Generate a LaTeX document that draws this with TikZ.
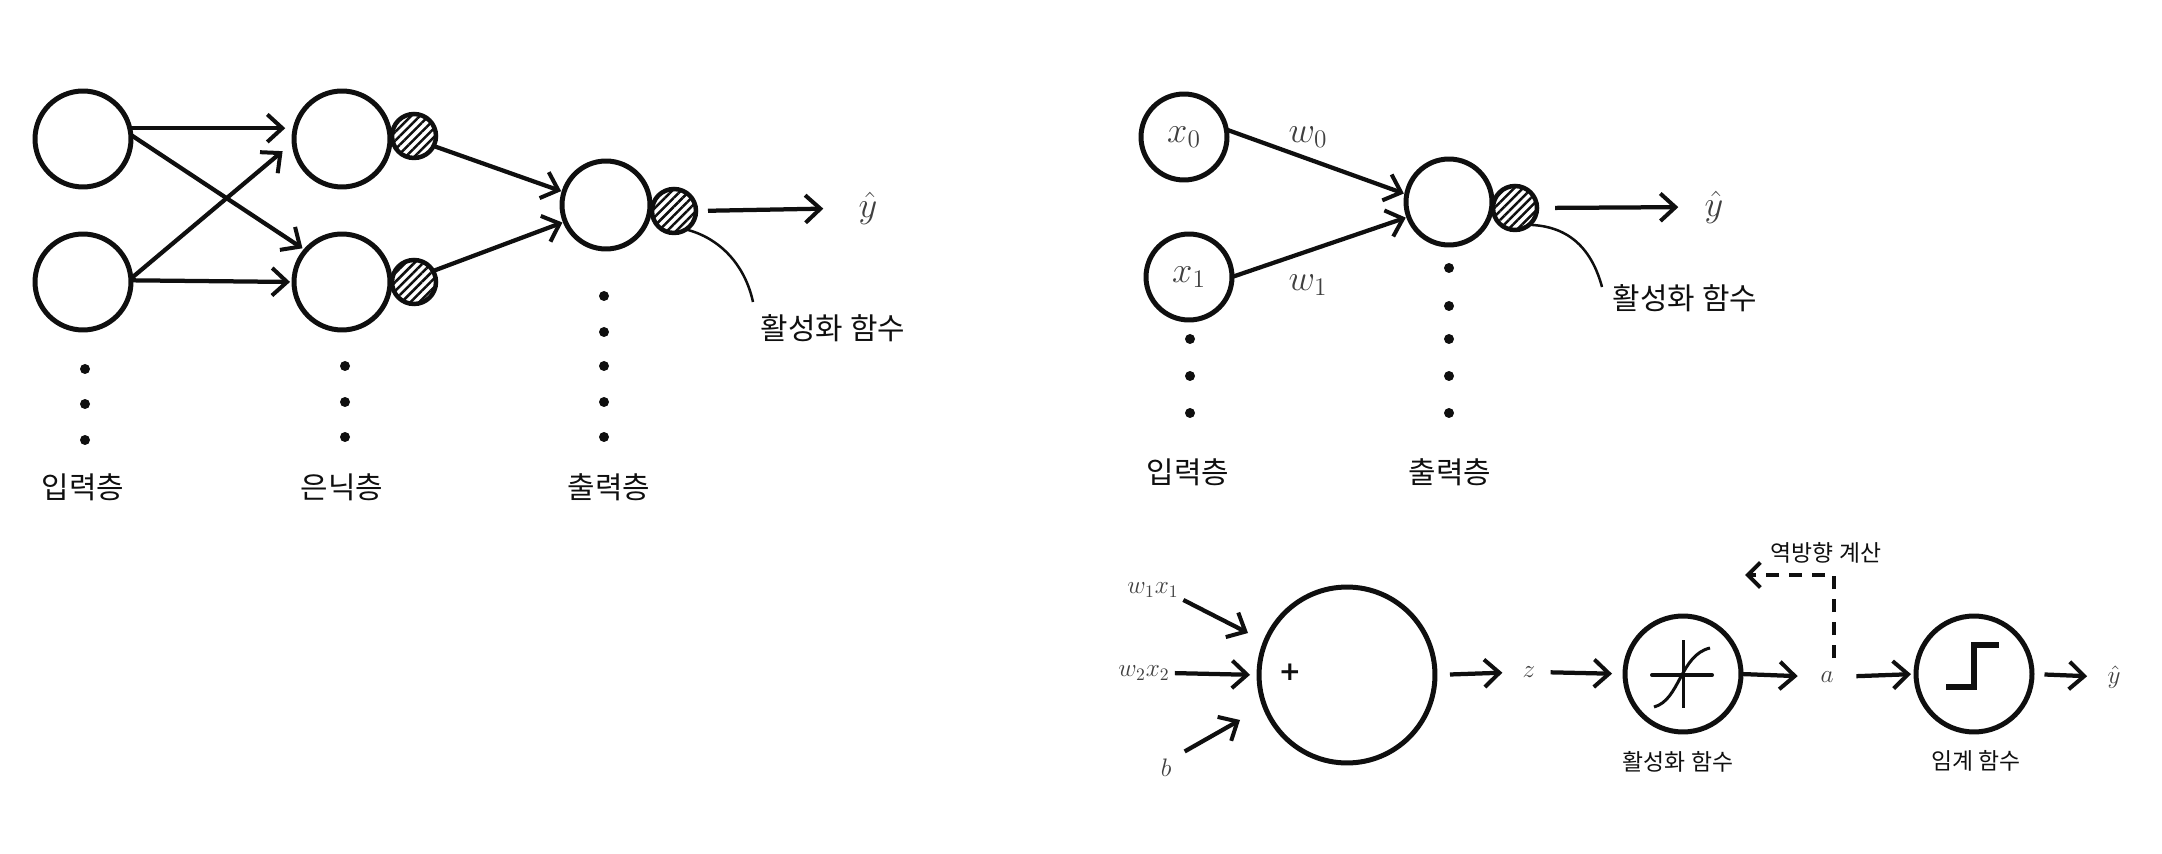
\documentclass[tikz,border=0pt]{standalone}
\usepackage{fontspec}
\usetikzlibrary{arrows.meta,patterns.meta}
\newfontfamily\krfont{Noto Sans CJK KR}
\newfontfamily\plusfont{DejaVu Sans}
\definecolor{ink}{gray}{0.06}
\definecolor{mathink}{gray}{0.25}
\tikzset{
  nrn/.style={circle,draw=ink,line width=0.1cm,inner sep=0pt,outer sep=0pt,minimum size=#1*0.04cm},
  hatchn/.style={circle,draw=ink,line width=0.09cm,inner sep=0pt,outer sep=0pt,minimum size=22*0.04cm,
    pattern={Lines[angle=45,distance=0.125cm,line width=0.05cm]},pattern color=ink},
  dotn/.style={circle,fill=ink,inner sep=0pt,outer sep=0pt,minimum size=0.2cm},
  arr/.style={draw=ink,line width=0.085cm,-{Straight Barb[length=0.3cm,width=0.55cm,line width=0.08cm]}},
  thin curve/.style={draw=ink,line width=0.05cm},
  klabel/.style={inner sep=0pt,text=ink,font=\krfont\fontsize{17}{20}\selectfont},
  ksmall/.style={inner sep=0pt,text=ink,font=\krfont\fontsize{13}{16}\selectfont},
  mbig/.style={inner sep=0pt,text=mathink,font=\huge},
  msmall/.style={inner sep=0pt,text=mathink,font=\Large},
  pen/.style={draw=ink,line width=0.08cm,line cap=round}
}
\begin{document}
\begin{tikzpicture}[x=0.02cm,y=-0.02cm]
\useasboundingbox (0,0) rectangle (2162,854);
% --- left network
\node[nrn=48] (i1) at (83,139) {};
\node[nrn=48] (i2) at (83,282) {};
\node[nrn=48] (h1) at (342,139) {};
\node[nrn=48] (h2) at (342,282) {};
\node[hatchn] (s1) at (414,136) {};
\node[hatchn] (s2) at (414,282) {};
\node[nrn=44] (o1) at (606,205) {};
\node[hatchn] (s3) at (674,211) {};
\node[mbig] (yh1) at (868,208) {$\hat{y}$};
\draw[arr,shorten >=0.2cm] (i1.13) -- (h1.167);
\draw[arr,shorten >=0.08cm] (i1.5) -- (h2.139);
\draw[arr,shorten >=0.3cm] (i2.4) -- (h1.183);
\draw[arr,shorten >=0.08cm] (i2.2) -- (h2.180);
\draw[arr,shorten >=0.06cm] (s1.-27) -- (o1.163);
\draw[arr,shorten >=0.06cm] (s2.30) -- (o1.202);
\draw[arr,shorten <=0.24cm,shorten >=0.7cm] (s3.east) -- (yh1.west);
\node[klabel] (act1) at (833,328) {활성화 함수};
\coordinate (act1c) at (753,302);
\draw[thin curve] (s3.-57) .. controls (720,238) and (745,265) .. (act1c);
\foreach \n/\x/\y in {a/85/369,b/85/404,c/85/440,d/345/366,e/345/402,f/345/437,g/604/296,h/604/332,i/604/366,j/604/402,k/604/437}
  \node[dotn] (dl\n) at (\x,\y) {};
\node[klabel] (li) at (83,487) {입력층};
\node[klabel] (lh) at (342,487) {은닉층};
\node[klabel] (lo) at (609,487) {출력층};
% --- right top network
\node[nrn=43,label={[mbig]center:$x_0$}] (x0) at (1184,137) {};
\node[nrn=43,label={[mbig]center:$x_1$}] (x1) at (1189,277) {};
\node[nrn=43] (o2) at (1449,202) {};
\node[hatchn] (s4) at (1515,208) {};
\node[mbig] (yh2) at (1714,207) {$\hat{y}$};
\draw[arr,shorten >=0.06cm] (x0.10) -- (o2.170);
\draw[arr,shorten >=0.06cm] (x1.0) -- (o2.200);
\node[mbig] (w0) at (1308,137) {$w_0$};
\node[mbig] (w1) at (1308,285) {$w_1$};
\draw[arr,shorten <=0.36cm,shorten >=0.52cm] (s4.east) -- (yh2.west);
\node[klabel] (act2) at (1685,298) {활성화 함수};
\coordinate (act2c) at (1602,287);
\draw[thin curve] (s4.-50) .. controls (1570,226) and (1592,250) .. (act2c);
\foreach \n/\x/\y in {a/1190/339,b/1190/376,c/1190/413,d/1449/268,e/1449/306,f/1449/339,g/1449/376,h/1449/413}
  \node[dotn] (dr\n) at (\x,\y) {};
\node[klabel] (li2) at (1188,472) {입력층};
\node[klabel] (lo2) at (1450,472) {출력층};
% --- right bottom pipeline
\node[nrn=88] (sum) at (1347,675) {};
\node[inner sep=0pt,text=ink,font=\plusfont\bfseries\fontsize{15}{18}\selectfont] (plus) at (1290,672) {+};
\node[msmall] (w1x1) at (1153,590) {$w_1x_1$};
\node[msmall] (w2x2) at (1144,673) {$w_2x_2$};
\node[msmall] (b) at (1166,768) {$b$};
\node[msmall] (z) at (1529,672) {$z$};
\node[nrn=58] (fa) at (1683,674) {};
\node[msmall] (aa) at (1827,677) {$a$};
\node[nrn=58] (ft) at (1974,674) {};
\node[msmall] (yh3) at (2114,677) {$\hat{y}$};
\coordinate (w1e) at (1248,633);
\coordinate (be) at (1240,720);
\coordinate (ds) at (1834,658);
\coordinate (dc) at (1834,575);
\coordinate (de) at (1745,575);
\draw[arr,shorten <=0.1cm] (w1x1.south east) -- (w1e);
\draw[arr,shorten <=0.1cm,shorten >=0.18cm] (w2x2.east) -- (sum.west);
\draw[arr,shorten <=0.3cm] (b.north east) -- (be);
\draw[arr,shorten <=0.3cm,shorten >=0.4cm] (sum.east) -- (z.west);
\draw[arr,shorten <=0.3cm,shorten >=0.26cm] (z.east) -- (fa.west);
\draw[arr,shorten >=0.45cm] (fa.east) -- (aa.west);
\draw[arr,shorten <=0.45cm,shorten >=0.1cm] (aa.east) -- (ft.west);
\draw[arr,shorten <=0.25cm,shorten >=0.4cm] (ft.east) -- (yh3.west);
\draw[arr,dash pattern=on 0.26cm off 0.2cm,
  -{Straight Barb[length=0.25cm,width=0.5cm,line width=0.08cm]}] (ds) -- (dc) -- (de);
\node[ksmall] (back) at (1826,553) {역방향 계산};
\node[ksmall] (act3) at (1678,762) {활성화 함수};
\node[ksmall] (thr) at (1976,761) {임계 함수};
% glyphs inside the function circles
\draw[pen] (1652,675) -- (1712,675);
\draw[draw=ink,line width=0.06cm] (1683,640) -- (1683,708);
\draw[draw=ink,line width=0.06cm] (1654,707) .. controls (1680,700) and (1680,655) .. (1710,648);
\draw[draw=ink,line width=0.11cm,line join=miter] (1946,687) -- (1974,687) -- (1974,645) -- (1999,645);
\end{tikzpicture}
\end{document}
